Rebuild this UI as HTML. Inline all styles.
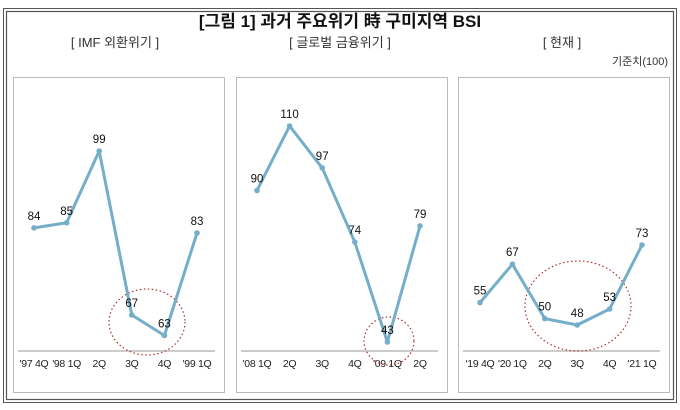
<!DOCTYPE html>
<html><head><meta charset="utf-8"><style>
body{margin:0;width:680px;height:410px;background:#fff;overflow:hidden;font-family:"Liberation Sans","Noto Sans CJK KR",sans-serif}
svg{display:block}
</style></head><body>
<svg width="680" height="410" font-family="'Liberation Sans','Noto Sans CJK KR',sans-serif">
<rect x="3.5" y="8.5" width="673" height="394" fill="none" stroke="#555" stroke-width="1"/>
<rect x="6.5" y="11.5" width="667" height="388" fill="none" stroke="#555" stroke-width="1.2"/>
<text x="340" y="27" text-anchor="middle" font-size="17" font-weight="bold" fill="#111">[그림 1] 과거 주요위기 時 구미지역 BSI</text>
<text x="115" y="47" text-anchor="middle" font-size="13" fill="#333">[ IMF 외환위기 ]</text>
<text x="340" y="47" text-anchor="middle" font-size="13" fill="#333">[ 글로벌 금융위기 ]</text>
<text x="562" y="47" text-anchor="middle" font-size="13" fill="#333">[ 현재 ]</text>
<text x="668" y="65" text-anchor="end" font-size="11" fill="#333">기준치(100)</text>
<g id="panels"></g>
</svg>
<script>
const cats1=["'97 4Q","'98 1Q","2Q","3Q","4Q","'99 1Q"];
const vals1=[84,85,99,67,63,83];
const cats2=["'08 1Q","2Q","3Q","4Q","'09 1Q","2Q"];
const vals2=[90,110,97,74,43,79];
const cats3=["'19 4Q","'20 1Q","2Q","3Q","4Q","'21 1Q"];
const vals3=[55,67,50,48,53,73];
const NS="http://www.w3.org/2000/svg";
const root=document.getElementById('panels');
function mk(t,a,p){const e=document.createElementNS(NS,t);for(const k in a)e.setAttribute(k,a[k]);(p||root).appendChild(e);return e;}
const panels=[
 {name:'imf',x0:13,cats:cats1,vals:vals1,x1:34,dx:32.6,vA:67,yA:315,vB:99,yB:151,circle:[147,322,38,33]},
 {name:'global',x0:236,cats:cats2,vals:vals2,x1:257,dx:32.6,vA:43,yA:342,vB:110,yB:126,circle:[389,341,25,24]},
 {name:'current',x0:458,cats:cats3,vals:vals3,x1:480,dx:32.4,vA:48,yA:325,vB:73,yB:245,circle:[578,306,53,45]}
];
panels.forEach(P=>{
 const g=mk('g',{});
 
 
 const fr=mk('rect',{x:P.x0+.5,y:77.5,width:211,height:315,fill:'none',stroke:'#bbb'},g);
 
 
 const xs=i=>P.x1+i*P.dx;
 const ys=v=>P.yA+(v-P.vA)*(P.yB-P.yA)/(P.vB-P.vA);
 const ax=mk('line',{x1:P.x0+5,x2:P.x0+202,y1:351,y2:351,stroke:'#bbb','stroke-width':1.5},g);
 
 
 P.cats.forEach((c,i)=>{
  const t=mk('text',{x:xs(i),y:367,'text-anchor':'middle','font-size':10.5,'letter-spacing':'-0.3',fill:'#222'},g);
  t.textContent=c;
  
  
 });
 const c=P.circle;
 const el=mk('ellipse',{cx:c[0],cy:c[1],rx:c[2],ry:c[3],fill:'none',stroke:'#b03030','stroke-width':1.2,'stroke-dasharray':'1.5 2.5'},g);
 
 
 const pts=P.vals.map((v,i)=>xs(i)+','+ys(v)).join(' ');
 const pl=mk('polyline',{points:pts,fill:'none',stroke:'#74aec8','stroke-width':3,'stroke-linejoin':'round'},g);
 
 
 P.vals.forEach((v,i)=>{
  const d=mk('circle',{cx:xs(i),cy:ys(v),r:2.8,fill:'#74aec8'},g);
  
  
  const t=mk('text',{x:xs(i),y:ys(v)-8,'text-anchor':'middle','font-size':11.5,fill:'#111'},g);
  t.textContent=v;
  
  
 });
});
</script>
</body></html>
